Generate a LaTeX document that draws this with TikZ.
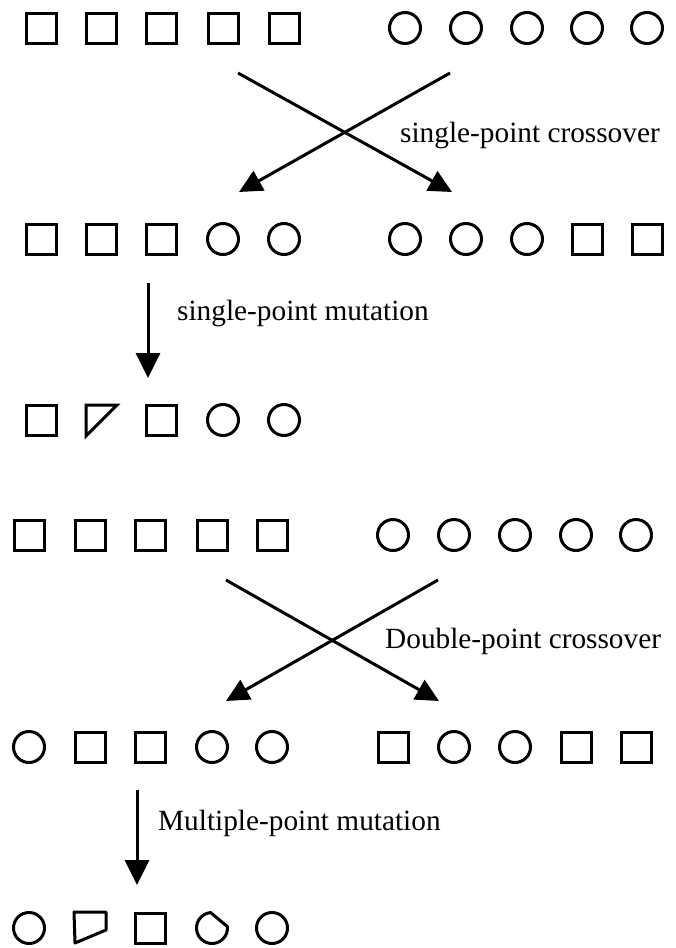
\documentclass[tikz,border=0pt]{standalone}
\usepackage{fontspec}
\setmainfont{Liberation Serif}
\usetikzlibrary{arrows.meta}
\tikzset{
  gene/.style={draw=black, line width=3pt, inner sep=0pt},
  sq/.style={gene, rectangle, minimum size=30pt},
  ci/.style={gene, circle, minimum size=31pt},
  odd/.style={line width=3pt},
  flow/.style={line width=3pt, -{Triangle[length=23pt,width=22pt]}},
  mut/.style={line width=3pt, -{Triangle[length=25pt,width=24pt]}},
  lbl/.style={font=\fontsize{29.3}{33}\selectfont, anchor=base west, inner sep=0pt}
}
\begin{document}
\begin{tikzpicture}[x=1pt,y=-1pt]
\useasboundingbox (0,0) rectangle (675,948);

% ---------- single-point example ----------
% parents
\foreach \i/\x in {1/41,2/101,3/161,4/223,5/284} \node[sq] (pa\i) at (\x,28) {};
\foreach \i/\x in {1/405,2/466,3/527,4/587,5/647} \node[ci] (pb\i) at (\x,28) {};
% offspring
\foreach \i/\x in {1/41,2/101,3/161} \node[sq] (oa\i) at (\x,239) {};
\foreach \i/\x in {4/223,5/284} \node[ci] (oa\i) at (\x,239) {};
\foreach \i/\x in {1/405,2/466,3/527} \node[ci] (ob\i) at (\x,239) {};
\foreach \i/\x in {4/587,5/647} \node[sq] (ob\i) at (\x,239) {};
% mutant
\node[sq] (ma1) at (41,420) {};
\draw[odd] (86,405) -- (117,405) -- (86,436) -- cycle;
\node[sq] (ma3) at (161,420) {};
\node[ci] (ma4) at (223,420) {};
\node[ci] (ma5) at (284,420) {};

% crossover arrows
\coordinate (x1a) at (238,73);
\coordinate (x1b) at (450,73);
\coordinate (y1a) at (239,192);
\coordinate (y1b) at (452,192);
\draw[flow] (x1a) -- (y1b);
\draw[flow] (x1b) -- (y1a);
\node[lbl] (c1) at (400,142) {single-point crossover};

% mutation arrow
\coordinate (m1a) at (148,283);
\coordinate (m1b) at (148,378);
\draw[mut] (m1a) -- (m1b);
\node[lbl] (t1) at (177,320) {single-point mutation};

% ---------- double-point example ----------
% parents
\foreach \i/\x in {1/29,2/90,3/150,4/212,5/272} \node[sq] (qa\i) at (\x,535) {};
\foreach \i/\x in {1/393,2/454,3/515,4/576,5/636} \node[ci] (qb\i) at (\x,535) {};
% offspring
\node[ci] (pa1x) at (29,747) {};
\node[sq] (pa2x) at (90,747) {};
\node[sq] (pa3x) at (150,747) {};
\node[ci] (pa4x) at (212,747) {};
\node[ci] (pa5x) at (272,747) {};
\node[sq] (pb1x) at (393,747) {};
\node[ci] (pb2x) at (454,747) {};
\node[ci] (pb3x) at (515,747) {};
\node[sq] (pb4x) at (576,747) {};
\node[sq] (pb5x) at (636,747) {};
% mutant
\node[ci] (na1) at (29,928) {};
\draw[odd, line join=round] (74,912) -- (106,912) -- (106,930) -- (75,943) -- cycle;
\node[sq] (na3) at (150,928) {};
\draw[odd] (212,928) ++(-5:15.5) arc[start angle=-5, end angle=265, radius=15.5] -- cycle;
\node[ci] (na5) at (272,928) {};

% crossover arrows
\coordinate (x2a) at (226,580);
\coordinate (x2b) at (438,580);
\coordinate (y2a) at (226,701);
\coordinate (y2b) at (439,701);
\draw[flow] (x2a) -- (y2b);
\draw[flow] (x2b) -- (y2a);
\node[lbl] (c2) at (385,648) {Double-point crossover};

% mutation arrow
\coordinate (m2a) at (137,790);
\coordinate (m2b) at (137,885);
\draw[mut] (m2a) -- (m2b);
\node[lbl] (t2) at (158,830) {Multiple-point mutation};
\end{tikzpicture}
\end{document}
